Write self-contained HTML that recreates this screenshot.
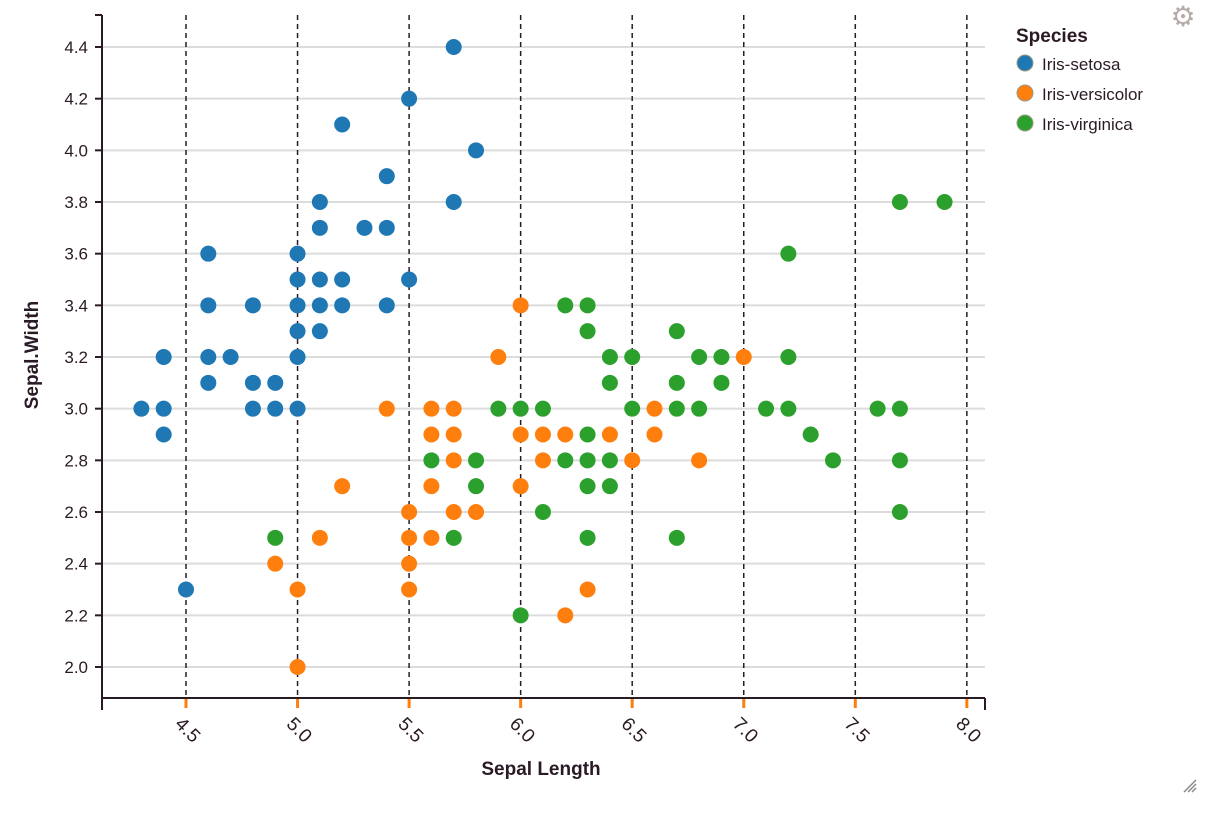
<!DOCTYPE html>
<html><head><meta charset="utf-8"><style>
html,body{margin:0;padding:0;background:#fff;}
svg{display:block;font-family:"Liberation Sans",sans-serif;}
</style></head><body>
<svg id="chart" width="1232" height="816">
<g id="grid"></g>
<g id="vgrid"></g>
<g id="axes"></g>
<g id="pts"></g>
<text x="541" y="775" text-anchor="middle" font-size="19" font-weight="bold" fill="#2a1a25">Sepal Length</text>
<text transform="translate(38,355) rotate(-90)" text-anchor="middle" font-size="19" font-weight="bold" fill="#2a1a25">Sepal.Width</text>
<g>
<text x="1016" y="42" font-size="19" font-weight="bold" fill="#2a1a25">Species</text>
<g><circle cx="1025" cy="63" r="8" fill="#1f77b4" stroke="#998" stroke-width="1"/><text x="1042" y="70" font-size="17" fill="#2a1a25">Iris-setosa</text></g>
<g><circle cx="1025" cy="93" r="8" fill="#ff7f0e" stroke="#998" stroke-width="1"/><text x="1042" y="100" font-size="17" fill="#2a1a25">Iris-versicolor</text></g>
<g><circle cx="1025" cy="123" r="8" fill="#2ca02c" stroke="#998" stroke-width="1"/><text x="1042" y="130" font-size="17" fill="#2a1a25">Iris-virginica</text></g>
</g>
<text x="1183" y="26" text-anchor="middle" font-size="28" fill="#b8aaa8">⚙</text>
<path d="M1184 792 L1196 780 M1188 792 L1196 784 M1192 792 L1196 788" stroke="#888" stroke-width="1.5"/>
</svg>
<script>
const xTicks=[4.5,5.0,5.5,6.0,6.5,7.0,7.5,8.0];
const yTicks=[2.0,2.2,2.4,2.6,2.8,3.0,3.2,3.4,3.6,3.8,4.0,4.2,4.4];
const setosa=[[4.3,3.0],[4.4,3.0],[4.4,3.2],[4.4,2.9],[4.5,2.3],[4.6,3.6],[4.6,3.4],[4.6,3.2],[4.6,3.1],[4.7,3.2],[4.8,3.4],[4.8,3.1],[4.8,3.0],[4.9,3.1],[4.9,3.0],[5.0,3.6],[5.0,3.5],[5.0,3.4],[5.0,3.3],[5.0,3.2],[5.0,3.0],[5.1,3.8],[5.1,3.7],[5.1,3.5],[5.1,3.4],[5.1,3.3],[5.2,4.1],[5.2,3.5],[5.2,3.4],[5.3,3.7],[5.4,3.9],[5.4,3.7],[5.4,3.4],[5.5,4.2],[5.5,3.5],[5.7,4.4],[5.7,3.8],[5.8,4.0]];
const versicolor=[[4.9,2.4],[5.0,2.3],[5.0,2.0],[5.1,2.5],[5.2,2.7],[5.4,3.0],[5.5,2.6],[5.5,2.5],[5.5,2.4],[5.5,2.3],[5.6,3.0],[5.6,2.9],[5.6,2.7],[5.6,2.5],[5.7,3.0],[5.7,2.9],[5.7,2.8],[5.7,2.6],[5.8,2.6],[5.9,3.2],[6.0,3.4],[6.0,2.9],[6.0,2.7],[6.1,2.9],[6.1,2.8],[6.2,2.9],[6.2,2.2],[6.3,2.3],[6.4,2.9],[6.5,2.8],[6.6,3.0],[6.6,2.9],[6.8,2.8],[7.0,3.2]];
const virginica=[[4.9,2.5],[5.6,2.8],[5.7,2.5],[5.8,2.8],[5.8,2.7],[5.9,3.0],[6.0,3.0],[6.0,2.2],[6.1,3.0],[6.1,2.6],[6.2,3.4],[6.2,2.8],[6.3,3.4],[6.3,3.3],[6.3,2.9],[6.3,2.8],[6.3,2.7],[6.3,2.5],[6.4,3.2],[6.4,3.1],[6.4,2.8],[6.4,2.7],[6.5,3.2],[6.5,3.0],[6.7,3.3],[6.7,3.1],[6.7,3.0],[6.7,2.5],[6.8,3.2],[6.8,3.0],[6.9,3.2],[6.9,3.1],[7.1,3.0],[7.2,3.6],[7.2,3.2],[7.2,3.0],[7.3,2.9],[7.4,2.8],[7.6,3.0],[7.7,3.8],[7.7,3.0],[7.7,2.8],[7.7,2.6],[7.9,3.8]];
const NS='http://www.w3.org/2000/svg';
const X0=102,X1=985,Y0=15,Y1=698;
function sx(v){return 186+(v-4.5)*223.1;}
function sy(v){return 667-(v-2.0)*258.33;}
function mk(tag,attrs,parent){const e=document.createElementNS(NS,tag);for(const k in attrs)e.setAttribute(k,attrs[k]);parent.appendChild(e);return e;}
const grid=document.getElementById('grid'),vgrid=document.getElementById('vgrid'),axes=document.getElementById('axes'),pts=document.getElementById('pts');
yTicks.forEach(t=>{
  const y=sy(t);
  const l=mk('line',{x1:X0,x2:X1,y1:y,y2:y,stroke:'#dcdcdc','stroke-width':2},grid);
  
  
  mk('line',{x1:X0-7,x2:X0,y1:y,y2:y,stroke:'#2a1a25','stroke-width':2},axes);
  const tx=mk('text',{x:X0-14,y:y+6,'text-anchor':'end','font-size':17,fill:'#2a1a25'},axes);
  tx.textContent=t.toFixed(1);
  
  
});
xTicks.forEach(t=>{
  const x=sx(t);
  const l=mk('line',{x1:x,x2:x,y1:Y0,y2:Y1,stroke:'#2a1a25','stroke-width':1.5,'stroke-dasharray':'5,4'},vgrid);
  
  
  mk('line',{x1:x,x2:x,y1:Y1,y2:Y1+10,stroke:'#ff7f0e','stroke-width':3},axes);
  const tx=mk('text',{x:0,y:0,transform:`translate(${x-12},${Y1+27}) rotate(45)`,'font-size':19,fill:'#2a1a25'},axes);
  tx.textContent=t.toFixed(1);
  
  
});
mk('line',{x1:X0,x2:X0,y1:Y0,y2:Y1+12,stroke:'#2a1a25','stroke-width':2},axes);
mk('line',{x1:X0-7,x2:X0,y1:Y0,y2:Y0,stroke:'#2a1a25','stroke-width':2},axes);
mk('line',{x1:X0,x2:X1,y1:Y1,y2:Y1,stroke:'#2a1a25','stroke-width':2},axes);
mk('line',{x1:X1,x2:X1,y1:Y1,y2:Y1+12,stroke:'#2a1a25','stroke-width':2},axes);
[[setosa,'#1f77b4','setosa'],[versicolor,'#ff7f0e','versicolor'],[virginica,'#2ca02c','virginica']].forEach(([d,c,n])=>{
  d.forEach(p=>{
    const e=mk('circle',{cx:sx(p[0]),cy:sy(p[1]),r:8,fill:c},pts);
    
    
  });
});
</script>
</body></html>
